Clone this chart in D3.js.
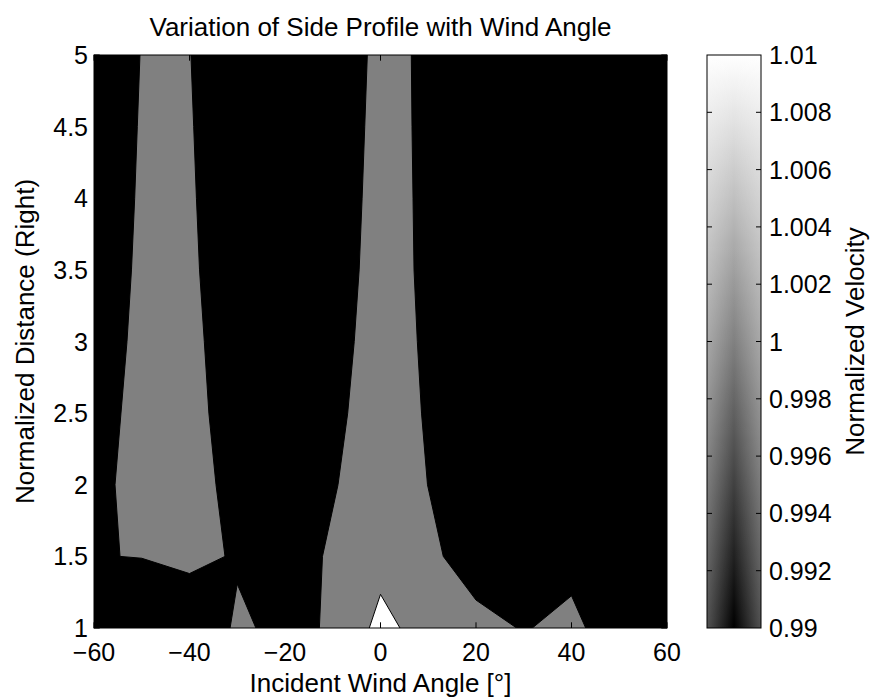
<!DOCTYPE html>
<html>
<head>
<meta charset="utf-8">
<script src="https://cdn.jsdelivr.net/npm/d3@7"></script>
<style>
  html, body { margin: 0; padding: 0; background: #fff; }
  svg { display: block; }
  text { font-family: "Liberation Sans", Arial, Helvetica, sans-serif; fill: #000; }
</style>
</head>
<body>
<svg id="chart" width="874" height="699"></svg>
<script>
// ---- data ---------------------------------------------------------------
const xTicks = [-60, -40, -20, 0, 20, 40, 60];
const yTicks = [1, 1.5, 2, 2.5, 3, 3.5, 4, 4.5, 5];
const cbTicks = [0.99, 0.992, 0.994, 0.996, 0.998, 1, 1.002, 1.004, 1.006, 1.008, 1.01];
const cbTickLabels = ["0.99", "0.992", "0.994", "0.996", "0.998", "1", "1.002", "1.004", "1.006", "1.008", "1.01"];

// background level of the filled contour field
const baseLevel = 0.99;

// filled contour regions: [incident angle (deg), normalized distance]
const westPlume = [
  [-50.37, 5], [-50.93, 4.5], [-51.48, 4], [-52.15, 3.5], [-53.09, 3], [-54.35, 2.5],
  [-55.6, 2], [-54.55, 1.5], [-50, 1.487], [-40, 1.38], [-32.57, 1.5], [-34.45, 2],
  [-35.94, 2.5], [-36.9, 3], [-37.9, 3.5], [-38.55, 4], [-39.12, 4.5], [-39.7, 5]
];
const centralPlume = [
  [-2.76, 5], [-3.3, 4.5], [-3.85, 4], [-4.47, 3.5], [-5.5, 3], [-6.87, 2.5],
  [-8.9, 2], [-12.15, 1.5], [-12.8, 1], [28.5, 1], [20, 1.195], [13.15, 1.5],
  [9.84, 2], [8.59, 2.5], [7.71, 3], [7.02, 3.5], [6.81, 4], [6.6, 4.5], [6.45, 5]
];
const westSpike = [[-31.5, 1], [-30, 1.307], [-26.1, 1]];
const eastSpike = [[31.8, 1], [40, 1.225], [42.97, 1]];
const peakSpike = [[-2.35, 1], [0, 1.235], [4.08, 1]];

const regionLevels = [1.0, 1.0, 1.0, 1.0, 1.01];
const regionShapes = [westPlume, centralPlume, westSpike, eastSpike, peakSpike];

// ---- layout -------------------------------------------------------------
const svg = d3.select("#chart");
const plot = { left: 94, top: 55, width: 573, height: 573 };
const cb = { left: 707, top: 55, width: 54, height: 573 };
const tickLen = 5.7;
const tickFont = 25;
const labelFont = 26;

const x = d3.scaleLinear().domain([-60, 60]).range([plot.left, plot.left + plot.width]);
const y = d3.scaleLinear().domain([1, 5]).range([plot.top + plot.height, plot.top]);
const color = d3.scaleLinear().domain([0.99, 1.01]).range(["#000000", "#ffffff"]);
const cy = d3.scaleLinear().domain([0.99, 1.01]).range([cb.top + cb.height, cb.top]);

// ---- contour field --------------------------------------------------------
const defs = svg.append("defs");
defs.append("clipPath").attr("id", "plotClip")
  .append("rect")
  .attr("x", plot.left).attr("y", plot.top)
  .attr("width", plot.width).attr("height", plot.height);

const field = svg.append("g").attr("clip-path", "url(#plotClip)");
field.append("rect")
  .attr("x", plot.left).attr("y", plot.top)
  .attr("width", plot.width).attr("height", plot.height)
  .attr("fill", color(baseLevel));

const polyLine = d3.line().x(d => x(d[0])).y(d => y(d[1]));

regionShapes.forEach((shape, i) => {
  field.append("path")
    .attr("d", polyLine(shape) + "Z")
    .attr("fill", color(regionLevels[i]));
});

// contour lines: every edge except the parts lying on the plot frame
regionShapes.forEach((shape) => {
  const closed = shape.concat([shape[0]]);
  for (let k = 0; k < closed.length - 1; k++) {
    const a = closed[k], b = closed[k + 1];
    const onFrame = (a[1] === b[1]) && (a[1] === 1 || a[1] === 5);
    if (onFrame) continue;
    field.append("path")
      .attr("d", polyLine([a, b]))
      .attr("fill", "none")
      .attr("stroke", "#000")
      .attr("stroke-width", 1);
  }
});

// ---- axes (ticks inward on all four sides) -------------------------------
const axG = svg.append("g");
const tickStyle = sel => sel.attr("stroke", "#000").attr("stroke-width", 1);

xTicks.forEach(t => {
  axG.append("line").call(tickStyle)
    .attr("x1", x(t)).attr("x2", x(t))
    .attr("y1", plot.top + plot.height).attr("y2", plot.top + plot.height - tickLen);
  axG.append("line").call(tickStyle)
    .attr("x1", x(t)).attr("x2", x(t))
    .attr("y1", plot.top).attr("y2", plot.top + tickLen);
  axG.append("text")
    .attr("x", x(t)).attr("y", 661)
    .attr("text-anchor", "middle")
    .attr("font-size", tickFont)
    .text(t < 0 ? "\u2212" + Math.abs(t) : String(t));
});

yTicks.forEach(t => {
  axG.append("line").call(tickStyle)
    .attr("x1", plot.left).attr("x2", plot.left + tickLen)
    .attr("y1", y(t)).attr("y2", y(t));
  axG.append("line").call(tickStyle)
    .attr("x1", plot.left + plot.width).attr("x2", plot.left + plot.width - tickLen)
    .attr("y1", y(t)).attr("y2", y(t));
  axG.append("text")
    .attr("x", 88).attr("y", y(t))
    .attr("dy", "0.36em")
    .attr("text-anchor", "end")
    .attr("font-size", tickFont)
    .text(String(t));
});

axG.append("rect")
  .attr("x", plot.left).attr("y", plot.top)
  .attr("width", plot.width).attr("height", plot.height)
  .attr("fill", "none").attr("stroke", "#000").attr("stroke-width", 1);

// ---- colorbar -------------------------------------------------------------
const vGrad = defs.append("linearGradient").attr("id", "cbVertical")
  .attr("x1", 0).attr("y1", 1).attr("x2", 0).attr("y2", 0);
cbTicks.forEach((v, i) => {
  vGrad.append("stop")
    .attr("offset", i / (cbTicks.length - 1))
    .attr("stop-color", color(v));
});

const hGrad = defs.append("linearGradient").attr("id", "cbShade")
  .attr("x1", 0).attr("y1", 0).attr("x2", 1).attr("y2", 0);
[[0, 0.32], [0.5, 0], [1, 0.32]].forEach(s => {
  hGrad.append("stop").attr("offset", s[0])
    .attr("stop-color", "#fff").attr("stop-opacity", s[1]);
});

svg.append("rect")
  .attr("x", cb.left).attr("y", cb.top)
  .attr("width", cb.width).attr("height", cb.height)
  .attr("fill", "url(#cbVertical)");
svg.append("rect")
  .attr("x", cb.left).attr("y", cb.top)
  .attr("width", cb.width).attr("height", cb.height)
  .attr("fill", "url(#cbShade)");

cbTicks.forEach((v, i) => {
  if (i > 0 && i < cbTicks.length - 1) {
    svg.append("line").call(tickStyle)
      .attr("x1", cb.left).attr("x2", cb.left + 5)
      .attr("y1", cy(v)).attr("y2", cy(v));
    svg.append("line").call(tickStyle)
      .attr("x1", cb.left + cb.width).attr("x2", cb.left + cb.width - 5)
      .attr("y1", cy(v)).attr("y2", cy(v));
  }
  svg.append("text")
    .attr("x", 769).attr("y", cy(v))
    .attr("dy", "0.36em")
    .attr("font-size", tickFont)
    .text(cbTickLabels[i]);
});

svg.append("rect")
  .attr("x", cb.left).attr("y", cb.top)
  .attr("width", cb.width).attr("height", cb.height)
  .attr("fill", "none").attr("stroke", "#000").attr("stroke-width", 1);

// ---- titles and labels ----------------------------------------------------
svg.append("text")
  .attr("x", plot.left + plot.width / 2).attr("y", 36)
  .attr("text-anchor", "middle")
  .attr("font-size", labelFont)
  .text("Variation of Side Profile with Wind Angle");

svg.append("text")
  .attr("x", plot.left + plot.width / 2).attr("y", 692)
  .attr("text-anchor", "middle")
  .attr("font-size", labelFont)
  .text("Incident Wind Angle [\u00b0]");

svg.append("text")
  .attr("transform", `translate(34,${plot.top + plot.height / 2}) rotate(-90)`)
  .attr("text-anchor", "middle")
  .attr("font-size", labelFont)
  .text("Normalized Distance (Right)");

svg.append("text")
  .attr("transform", `translate(864,${plot.top + plot.height / 2}) rotate(-90)`)
  .attr("text-anchor", "middle")
  .attr("font-size", labelFont)
  .text("Normalized Velocity");
</script>
</body>
</html>
